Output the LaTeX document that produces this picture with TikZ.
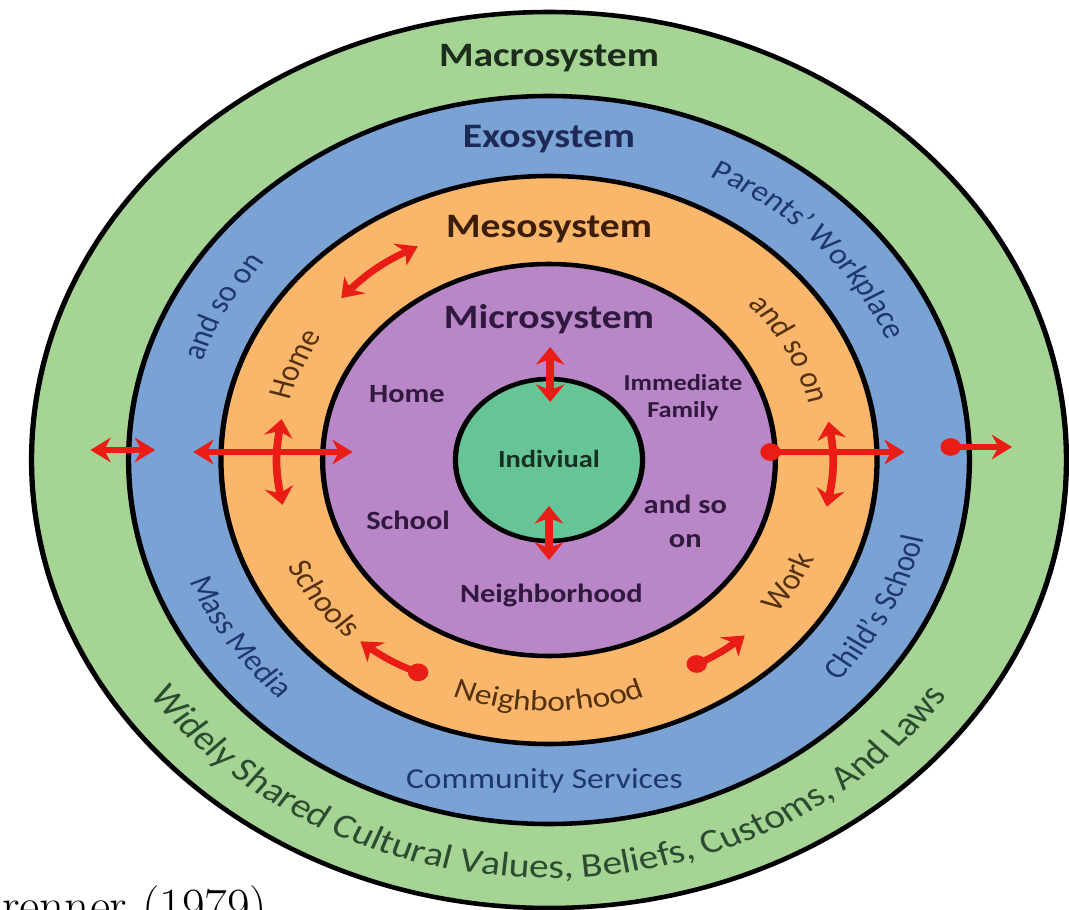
\documentclass[tikz,border=0pt]{standalone}
\usepackage{fontspec}
\newfontfamily\carl{Carlito}
\usepackage{tikz}
\usetikzlibrary{arrows.meta,decorations.text}

\definecolor{macrogreen}{RGB}{166,212,148}
\definecolor{exoblue}{RGB}{122,162,213}
\definecolor{mesoorange}{RGB}{250,182,106}
\definecolor{micropurple}{RGB}{185,135,200}
\definecolor{selfgreen}{RGB}{102,196,150}
\definecolor{arrowred}{RGB}{234,28,22}
\definecolor{macrotext}{RGB}{28,45,28}
\definecolor{exotext}{RGB}{30,42,85}
\definecolor{mesotext}{RGB}{60,30,8}
\definecolor{microtext}{RGB}{48,24,62}
\definecolor{selftext}{RGB}{22,48,34}
\definecolor{greenlbl}{RGB}{45,75,48}
\definecolor{bluelbl}{RGB}{30,55,110}
\definecolor{orangelbl}{RGB}{85,50,15}

\newcommand\ringfnt{\carl\fontsize{16.5}{19}\selectfont}
\newcommand\bigringfnt{\carl\fontsize{19.5}{22}\selectfont}

\tikzset{
  ring/.style={draw=black, line width=2.6pt},
  systitle/.style={inner sep=0pt, anchor=base, font=\carl\bfseries\fontsize{19.5}{22}\selectfont},
  inlabel/.style={inner sep=0pt, align=center, text=microtext, font=\carl\bfseries\fontsize{15}{19.3}\selectfont},
  flatlabel/.style={inner sep=0pt, anchor=base, font=\ringfnt},
  arclabel/.style={decorate, decoration={text along path, text align=center, text color=#1}},
  link/.style={draw=arrowred, line width=3.8pt},
  twohead/.style={link, {Stealth[length=10pt,width=14pt]}-{Stealth[length=10pt,width=14pt]}},
  dothead/.style={link, {Circle[length=10pt]}-{Stealth[length=10pt,width=14pt]}}
}

\begin{document}
\begin{tikzpicture}[x=0.02cm, y=0.02cm]
\useasboundingbox (-549,-450) rectangle (520,460);
\begin{scope}[transform canvas={xscale=1.155}]
\draw[ring, fill=macrogreen] (0,0) circle (448);
\draw[ring, fill=exoblue] (0,0) circle (364);
\draw[ring, fill=mesoorange] (0,0) circle (284);
\draw[ring, fill=micropurple] (0,0) circle (196);
\draw[ring, fill=selfgreen] (0,0) circle (81);

\node[systitle, text=macrotext] (macro) at (0,393) {Macrosystem};
\node[systitle, text=exotext] (exo) at (0,312) {Exosystem};
\node[systitle, text=mesotext] (meso) at (0,222) {Mesosystem};
\node[systitle, text=microtext] (micro) at (0,132) {Microsystem};

\node[inlabel] (mhome) at (-123,66) {Home};
\node[inlabel] (mschool) at (-122,-60) {School};
\node[inlabel, font=\carl\bfseries\fontsize{13}{15.3}\selectfont] (family) at (116,62) {Immediate\\Family};
\node[inlabel] (mrest) at (118,-61) {and so\\on};
\node[inlabel] (mhood) at (2,-135) {Neighborhood};
\node[inlabel, text=selftext, font=\carl\bfseries\fontsize{14}{17}\selectfont] (self) at (0,1) {Indiviual};
\node[flatlabel, text=bluelbl] (services) at (-4,-328) {Community Services};

\path[arclabel=greenlbl, decoration={text={|\bigringfnt|Widely Shared Cultural Values, Beliefs, Customs, And Laws}}]
  (205:418) arc[start angle=205, end angle=335, radius=418];
\path[arclabel=bluelbl, decoration={text={|\ringfnt|Parents’ Workplace}}]
  (85:316) arc[start angle=85, end angle=1, radius=316];
\path[arclabel=bluelbl, decoration={text={|\ringfnt|and so on}}]
  (178:316) arc[start angle=178, end angle=125, radius=316];
\path[arclabel=bluelbl, decoration={text={|\ringfnt|Mass Media}}]
  (185:334) arc[start angle=185, end angle=242, radius=334];
\path[arclabel=bluelbl, decoration={text={|\ringfnt|Child’s School}}]
  (-57:334) arc[start angle=-57, end angle=2, radius=334];
\path[arclabel=orangelbl, decoration={text={|\ringfnt|Neighborhood}}]
  (230:251) arc[start angle=230, end angle=310, radius=251];
\path[arclabel=orangelbl, decoration={text={|\ringfnt|Home}}]
  (185:232) arc[start angle=185, end angle=128, radius=232];
\path[arclabel=orangelbl, decoration={text={|\ringfnt|Schools}}]
  (195:250) arc[start angle=195, end angle=236, radius=250];
\path[arclabel=orangelbl, decoration={text={|\ringfnt|Work}}]
  (-50:250) arc[start angle=-50, end angle=-11, radius=250];
\path[arclabel=orangelbl, decoration={text={|\ringfnt|and so on}}]
  (55:232) arc[start angle=55, end angle=1, radius=232];

\coordinate (farL1) at (-397,10);
\coordinate (farL2) at (-341,10);
\coordinate (exoL1) at (-308,8);
\coordinate (exoL2) at (-170,8);
\coordinate (mesoL1) at (170:235);
\coordinate (mesoL2) at (191:235);
\coordinate (exoR1) at (183,8);
\coordinate (exoR2) at (308,8);
\coordinate (farR1) at (339,13);
\coordinate (farR2) at (401,13);
\coordinate (mesoR1) at (9:245);
\coordinate (mesoR2) at (-11:245);
\coordinate (selfT1) at (1,113);
\coordinate (selfT2) at (1,58);
\coordinate (selfB1) at (0,-46);
\coordinate (selfB2) at (0,-100);
\coordinate (homeA) at (138:242);
\coordinate (homeB) at (118:242);
\coordinate (schoolA) at (244:240);
\coordinate (schoolB) at (228:244);
\coordinate (workA) at (-60:240);
\coordinate (workB) at (-46:244);

\draw[twohead] (farL1) -- (farL2);
\draw[twohead] (exoL1) -- (exoL2);
\draw[twohead] (mesoL1) to[bend right=10] (mesoL2);
\draw[dothead] (exoR1) -- (exoR2);
\draw[dothead] (farR1) -- (farR2);
\draw[twohead] (mesoR1) to[bend left=10] (mesoR2);
\draw[twohead] (selfT1) -- (selfT2);
\draw[twohead] (selfB1) -- (selfB2);
\draw[twohead] (homeA) to[bend left=10] (homeB);
\draw[dothead] (schoolA) to[bend left=8] (schoolB);
\draw[dothead] (workA) to[bend right=7] (workB);
\end{scope}
\node[anchor=base west, inner sep=0pt, font=\fontsize{28}{32}\selectfont] (cite) at (-547,-462) {renner (1979)};
\end{tikzpicture}
\end{document}
